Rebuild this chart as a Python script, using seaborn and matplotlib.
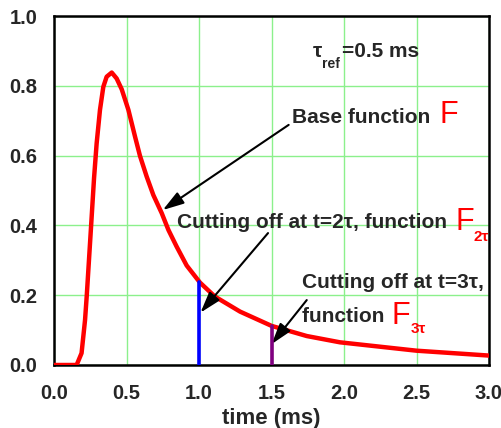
import numpy as np
import pandas as pd
import matplotlib
matplotlib.use("Agg")
import matplotlib.pyplot as plt
from matplotlib.ticker import MultipleLocator
import seaborn as sns

# values
time_ms = [0.0, 0.156, 0.19, 0.214, 0.226, 0.256, 0.276, 0.294, 0.317, 0.34, 0.363,
           0.398, 0.432, 0.467, 0.513, 0.559, 0.593, 0.639, 0.685, 0.743, 0.789,
           0.846, 0.915, 1.007, 1.11, 1.283, 1.501, 1.743, 1.972, 2.5, 3.0]
base_F = [0.0, 0.0, 0.034, 0.129, 0.2, 0.4, 0.535, 0.635, 0.731, 0.797, 0.826,
          0.838, 0.821, 0.79, 0.731, 0.654, 0.599, 0.54, 0.487, 0.435, 0.387,
          0.339, 0.285, 0.236, 0.196, 0.153, 0.112, 0.083, 0.065, 0.041, 0.027]

cut_2tau_t = [1.0, 1.0]
cut_2tau_F = [0.0, 0.238]
cut_3tau_t = [1.5, 1.5]
cut_3tau_F = [0.0, 0.112]

xticks = [0.0, 0.5, 1.0, 1.5, 2.0, 2.5, 3.0]
yticks = [0.0, 0.2, 0.4, 0.6, 0.8, 1.0]

sns.set_style("white")
plt.rcParams['font.family'] = ['Liberation Sans', 'DejaVu Sans']
plt.rcParams['font.weight'] = 'bold'

fig = plt.figure(figsize=(5.02, 4.28), dpi=100)
ax = fig.add_axes([0.1076, 0.1472, 0.8665, 0.8154])

df = pd.DataFrame({'t': time_ms, 'F': base_F})
sns.lineplot(data=df, x='t', y='F', ax=ax, color='#ff0000', linewidth=3.2, zorder=3,
             solid_joinstyle='round', solid_capstyle='round')
sns.lineplot(x=cut_2tau_t, y=cut_2tau_F, ax=ax, color='#0000ff', linewidth=2.6,
             estimator=None, sort=False, zorder=4)
sns.lineplot(x=cut_3tau_t, y=cut_3tau_F, ax=ax, color='#800080', linewidth=2.6,
             estimator=None, sort=False, zorder=4)

ax.set_xlim(0, 3)
ax.set_ylim(0, 1)
ax.set_xticks(xticks)
ax.set_yticks(yticks)
ax.set_xticklabels([f"{v:.1f}" for v in xticks])
ax.set_yticklabels([f"{v:.1f}" for v in yticks])
ax.xaxis.set_minor_locator(MultipleLocator(0.25))
ax.yaxis.set_minor_locator(MultipleLocator(0.1))
ax.grid(True, which='major', color='#8cf08c', linewidth=1.0, zorder=0)
ax.set_axisbelow(True)
ax.tick_params(which='major', direction='inout', length=10, width=1.5, labelsize=14.5)
ax.tick_params(which='minor', direction='inout', length=6, width=1.5)
ax.tick_params(axis='y', which='major', pad=7)
ax.tick_params(axis='x', which='major', length=8, pad=10)
ax.tick_params(axis='x', which='minor', length=5)
for s in ax.spines.values():
    s.set_linewidth(1.8)
    s.set_color('black')
ax.set_xlabel('time (ms)', fontsize=16, fontweight='bold', labelpad=3.5)
ax.set_ylabel('')

arrow = dict(arrowstyle='-|>,head_length=0.8,head_width=0.25', color='black',
             lw=1.5, mutation_scale=16, shrinkA=0, shrinkB=0)

# tau_ref label
ax.text(1.786, 0.897, 'τ', fontsize=15, fontweight='bold', va='center', ha='left')
ax.text(1.848, 0.862, 'ref', fontsize=10, fontweight='bold', va='center', ha='left')
ax.text(1.986, 0.897, '=0.5 ms', fontsize=15, fontweight='bold', va='center', ha='left')

# base function
ax.annotate('Base function ', xy=(0.75, 0.444), xytext=(1.641, 0.708),
            fontsize=15, fontweight='bold', va='center', ha='left',
            arrowprops=dict(arrow, relpos=(0.0, 0.25)))
ax.text(2.662, 0.716, 'F', fontsize=22, color='#ff0000', fontweight='normal',
        va='center', ha='left')

# cut at 2 tau
ax.text(0.846, 0.407, 'Cutting off at t=2τ, function ', fontsize=15,
        fontweight='bold', va='center', ha='left')
ax.text(2.766, 0.41, 'F', fontsize=22, color='#ff0000', fontweight='normal',
        va='center', ha='left')
ax.text(2.89, 0.367, '2τ', fontsize=11, color='#ff0000', fontweight='bold',
        va='center', ha='left')
ax.annotate('', xy=(1.01, 0.15), xytext=(1.476, 0.378), arrowprops=arrow)

# cut at 3 tau
ax.text(1.708, 0.235, 'Cutting off at t=3τ,', fontsize=15,
        fontweight='bold', va='center', ha='left')
ax.text(1.708, 0.138, 'function ', fontsize=15,
        fontweight='bold', va='center', ha='left')
ax.text(2.33, 0.14, 'F', fontsize=22, color='#ff0000', fontweight='normal',
        va='center', ha='left')
ax.text(2.46, 0.102, '3τ', fontsize=11, color='#ff0000', fontweight='bold',
        va='center', ha='left')
ax.annotate('', xy=(1.501, 0.06), xytext=(1.743, 0.186), arrowprops=arrow)

fig.savefig('out.png', dpi=100)
